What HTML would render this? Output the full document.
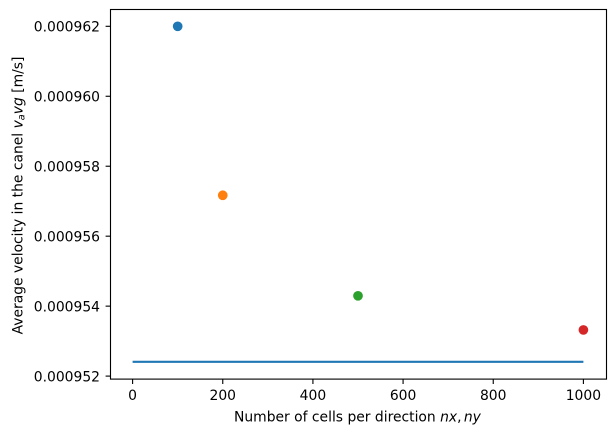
<!DOCTYPE html>
<html>
<head>
<meta charset="utf-8">
<style>
html,body{margin:0;padding:0;background:#fff;width:615px;height:436px;overflow:hidden}
svg{display:block}
text{font-family:"DejaVu Sans",sans-serif;font-size:13.89px;fill:#000}
.math{font-style:italic}
</style>
</head>
<body>
<svg id="chart" width="615" height="436" viewBox="0 0 615 436" xmlns="http://www.w3.org/2000/svg">
  <rect x="0" y="0" width="615" height="436" fill="#fff"/>
  <g id="marks"></g>
  <g id="ticks"></g>
  <rect x="110.5" y="9.5" width="496" height="369.6" fill="none" stroke="#000" stroke-width="1.11"/>
  <text x="234" y="421.5">Number of cells per direction <tspan class="math">nx</tspan>,<tspan class="math" dx="2.3">ny</tspan></text>
  <text transform="translate(22.5 195.5) rotate(-90)" text-anchor="middle">Average velocity in the canel <tspan class="math">v</tspan><tspan class="math" font-size="9.7" dy="2">a</tspan><tspan class="math" dy="-2">vg</tspan> [m/s]</text>
</svg>
<script>
const pointX = [100, 200, 500, 1000];
const pointY = [0.000962, 0.00095717, 0.000954295, 0.00095332];
const pointColors = ['#1f77b4', '#ff7f0e', '#2ca02c', '#d62728'];
const lineX = [0, 1000];
const lineY = [0.000952409, 0.000952409];
const xTickValues = [0, 200, 400, 600, 800, 1000];
const xTickLabels = ['0', '200', '400', '600', '800', '1000'];
const yTickValues = [0.000952, 0.000954, 0.000956, 0.000958, 0.00096, 0.000962];
const yTickLabels = ['0.000952', '0.000954', '0.000956', '0.000958', '0.000960', '0.000962'];

const NS = 'http://www.w3.org/2000/svg';
function xScale(v) { return 132.6 + v * 0.4508; }
function yScale(v) { return 376.1 - (v - 0.000952) * 34980000; }
function make(tag, attrs, parent) {
  const el = document.createElementNS(NS, tag);
  for (const k in attrs) el.setAttribute(k, attrs[k]);
  parent.appendChild(el);
  return el;
}
const marks = document.getElementById('marks');
const ticks = document.getElementById('ticks');

const line = make('polyline', {
  points: lineX.map((x, i) => xScale(x) + ',' + yScale(lineY[i])).join(' '),
  fill: 'none', stroke: '#1f77b4', 'stroke-width': 2.08
}, marks);



pointX.forEach((x, i) => {
  const c = make('circle', { cx: xScale(x), cy: yScale(pointY[i]), r: 4.86, fill: pointColors[i] }, marks);
  
  
});

xTickValues.forEach((v, i) => {
  const px = xScale(v);
  const t = make('line', { x1: px, x2: px, y1: 379.1, y2: 384, stroke: '#000', 'stroke-width': 1.11 }, ticks);
  
  
  const l = make('text', { x: px, y: 400, 'text-anchor': 'middle' }, ticks);
  l.textContent = xTickLabels[i];
  
  
});

yTickValues.forEach((v, i) => {
  const py = yScale(v);
  const t = make('line', { x1: 105.6, x2: 110.5, y1: py, y2: py, stroke: '#000', 'stroke-width': 1.11 }, ticks);
  
  
  const l = make('text', { x: 100, y: py + 5.2, 'text-anchor': 'end' }, ticks);
  l.textContent = yTickLabels[i];
  
  
});
</script>
</body>
</html>
